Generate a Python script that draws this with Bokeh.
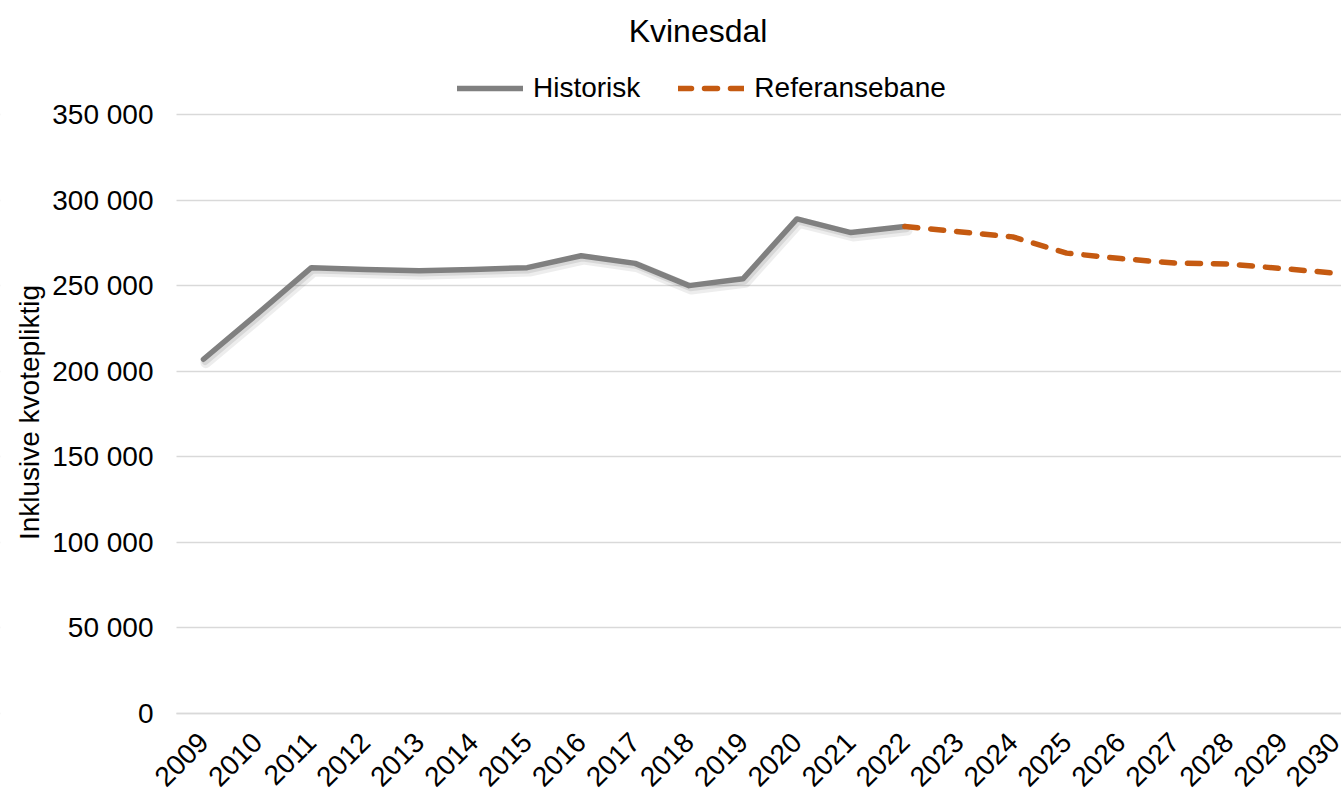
from math import pi
from bokeh.plotting import figure
from bokeh.models import (Range1d, FixedTicker, ColumnDataSource, Legend, LegendItem,
                          Label, BoxAnnotation)
from bokeh.transform import dodge
from bokeh.embed import file_html
from bokeh.resources import INLINE

# ---- data ----
years = [str(y) for y in range(2009, 2031)]
hist_years = years[:14]            # 2009-2022
hist_values = [207000, 233500, 260500, 259500, 258700, 259500, 260500, 267500,
               263000, 250000, 254000, 289000, 281000, 284500]
ref_years = years[13:]             # 2022-2030
ref_values = [284500, 281500, 278500, 269000, 265800, 263200, 262600, 260000, 257200]
y_ticks = [0, 50000, 100000, 150000, 200000, 250000, 300000, 350000]
y_tick_labels = ["0", "50 000", "100 000", "150 000", "200 000", "250 000", "300 000", "350 000"]
title_text = "Kvinesdal"
y_label = "Inklusive kvotepliktig"
hist_name = "Historisk"
ref_name = "Referansebane"

FONT = "Liberation Sans"
GRAY = "#808080"
ORANGE = "#c55a11"
GRID = "#d9d9d9"

W, H = 1341, 792
# plot-area geometry (pixels)
AREA_LEFT, AREA_TOP, AREA_BOTTOM = 176, 114, 713
PX_PER_CAT = 53.95
Y_MAX = 350000
PX_PER_VAL = (AREA_BOTTOM - AREA_TOP) / Y_MAX

x_start = -0.5 - AREA_LEFT / PX_PER_CAT
x_end = -0.5 + (W - AREA_LEFT) / PX_PER_CAT
y_start = -(H - AREA_BOTTOM) / PX_PER_VAL
y_end = Y_MAX + AREA_TOP / PX_PER_VAL


def px_x(px):
    return x_start + px / PX_PER_CAT


def px_y(py):
    return (AREA_BOTTOM - py) / PX_PER_VAL


idx = {y: i for i, y in enumerate(years)}
hist_src = ColumnDataSource(dict(x=[idx[y] for y in hist_years], y=hist_values))
ref_src = ColumnDataSource(dict(x=[idx[y] for y in ref_years], y=ref_values))

p = figure(width=W, height=H, output_backend="svg", toolbar_location=None,
           x_range=Range1d(x_start, x_end), y_range=Range1d(y_start, y_end),
           min_border=0)
p.outline_line_color = None
p.background_fill_color = "white"
p.border_fill_color = "white"

# y axis (inside frame, fixed at the plot-area left edge)
p.yaxis.fixed_location = -0.5
p.yaxis.ticker = FixedTicker(ticks=y_ticks)
p.yaxis.major_label_overrides = {t: l for t, l in zip(y_ticks, y_tick_labels)}
p.yaxis.axis_line_color = None
p.yaxis.major_tick_line_color = None
p.yaxis.minor_tick_line_color = None
p.yaxis.major_tick_out = 0
p.yaxis.major_tick_in = 0
p.yaxis.major_label_standoff = 23
p.yaxis.major_label_text_font = FONT
p.yaxis.major_label_text_font_size = "28px"
p.yaxis.major_label_text_color = "black"

# x axis (fixed at value 0)
p.xaxis.fixed_location = 0
p.xaxis.bounds = (-0.5, x_end)
p.xaxis.ticker = FixedTicker(ticks=list(range(len(years))))
p.xaxis.major_label_overrides = {i: y for i, y in enumerate(years)}
p.xaxis.major_label_orientation = pi / 4
p.xaxis.major_label_text_font = FONT
p.xaxis.major_label_text_font_size = "28px"
p.xaxis.major_label_text_color = "black"
p.xaxis.major_tick_line_color = None
p.xaxis.minor_tick_line_color = None
p.xaxis.major_tick_out = 0
p.xaxis.major_tick_in = 0
p.xaxis.major_label_standoff = 24
p.xaxis.axis_line_color = GRID
p.xaxis.axis_line_width = 1.5

p.xgrid.grid_line_color = None
p.ygrid.ticker = FixedTicker(ticks=y_ticks)
p.ygrid.grid_line_color = GRID
p.ygrid.grid_line_width = 1.5

# hide grid lines left of the plot area
p.add_layout(BoxAnnotation(right=-0.5, fill_color="white", fill_alpha=1,
                           line_alpha=0, level="underlay"))

# shadow for historical line
p.line(x=dodge("x", 0.045), y=dodge("y", -2000), source=hist_src, line_color="black",
       line_alpha=0.07, line_width=11, line_join="round", line_cap="round")
p.line(x=dodge("x", 0.03), y=dodge("y", -1300), source=hist_src, line_color="black",
       line_alpha=0.09, line_width=7, line_join="round", line_cap="round")

r_hist = p.line("x", "y", source=hist_src, line_color=GRAY, line_width=5.5,
                line_join="round", line_cap="round")
r_ref = p.line("x", "y", source=ref_src, line_color=ORANGE, line_width=5.5,
               line_dash="13 13", line_join="round", line_cap="round")

# title
p.add_layout(Label(x=px_x(697.5), y=px_y(30), text=title_text, text_align="center",
                   text_baseline="middle", text_font=FONT, text_font_size="32px",
                   text_color="black"))
# y axis title
p.add_layout(Label(x=px_x(29), y=px_y(412), text=y_label, angle=pi / 2,
                   text_align="center", text_baseline="middle", text_font=FONT,
                   text_font_size="28px", text_color="black"))

legend = Legend(items=[LegendItem(label=hist_name, renderers=[r_hist]),
                       LegendItem(label=ref_name, renderers=[r_ref])],
                orientation="horizontal", location=(457, H - 88 - 16),
                padding=0, margin=0, spacing=38, label_standoff=10,
                glyph_width=66, glyph_height=32, label_height=32,
                label_text_font=FONT, label_text_font_size="28px",
                label_text_color="black", border_line_color=None,
                background_fill_alpha=0)
p.add_layout(legend, "center")

open("out.html", "w").write(file_html(p, INLINE))
